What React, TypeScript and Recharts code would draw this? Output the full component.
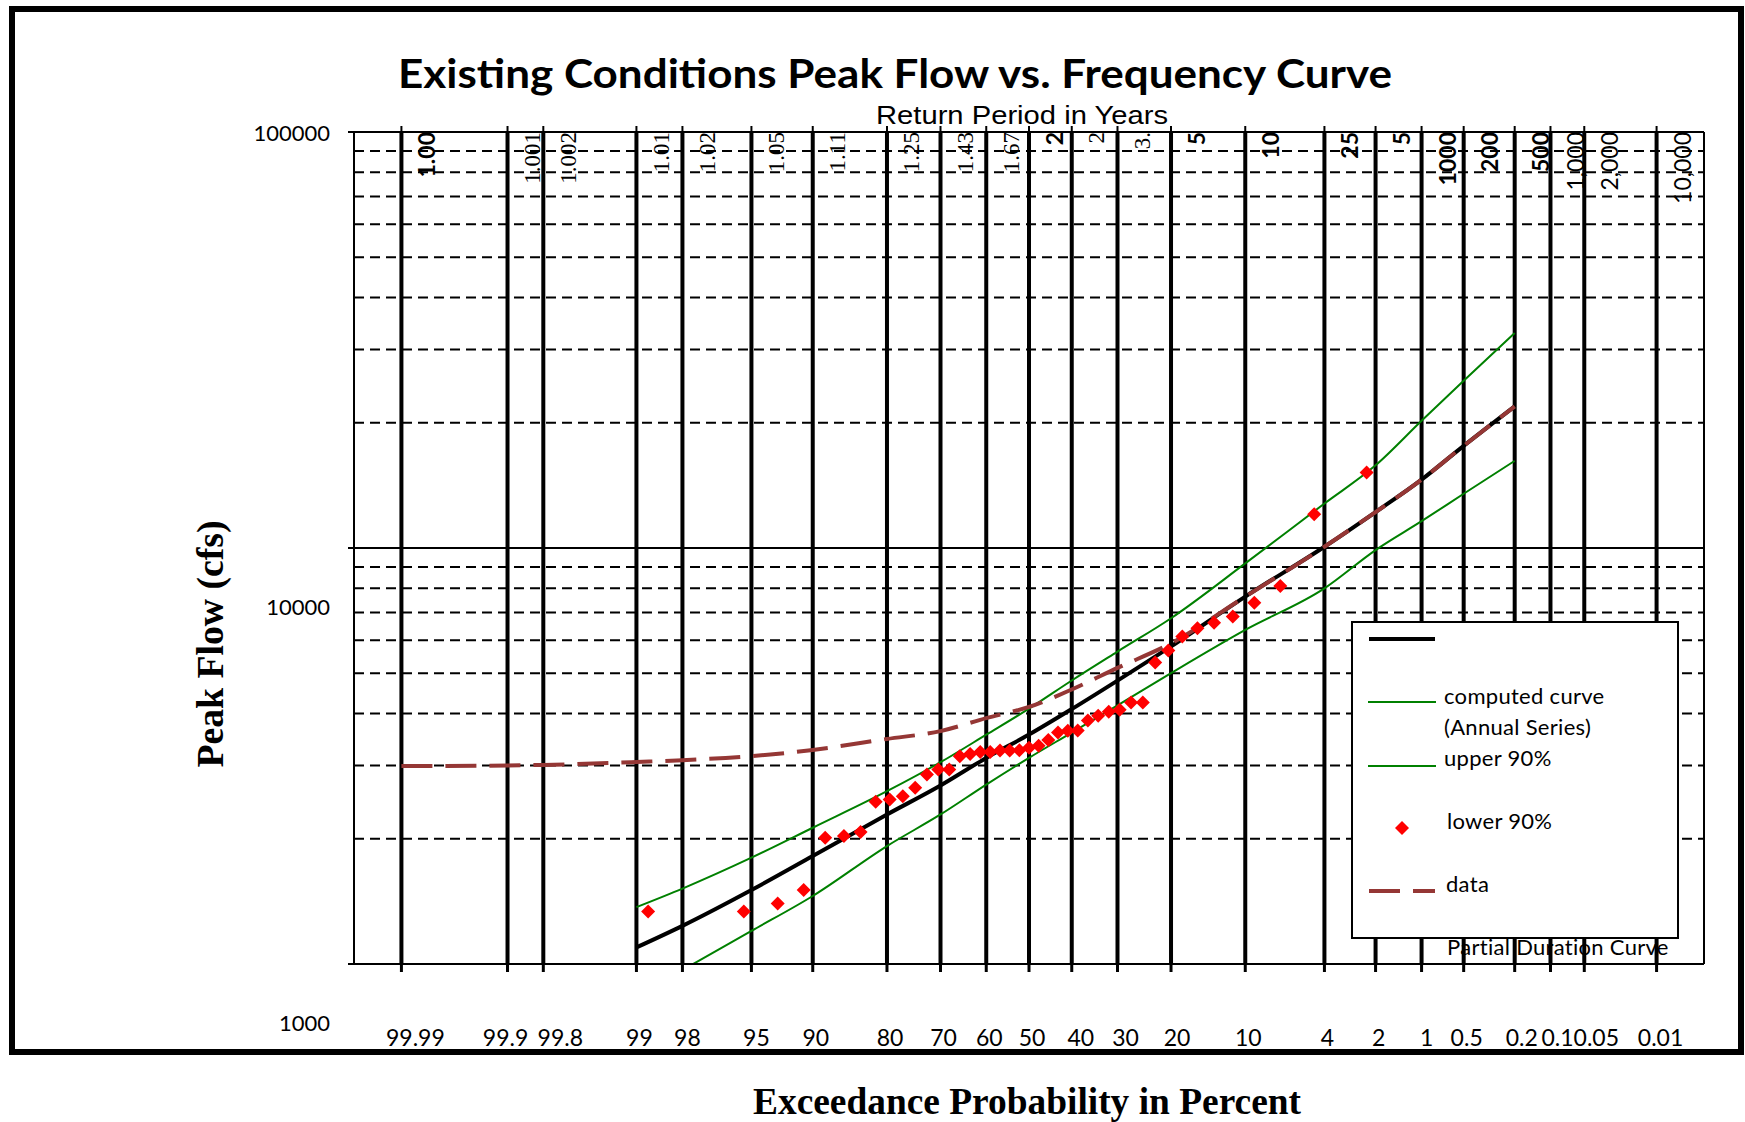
import React from "react";
import { ComposedChart, Line, Scatter, XAxis, YAxis, ReferenceLine } from "recharts";

// exceedance probabilities (%) carrying a vertical rule, bottom labels and return periods on top
const gridProbs = [99.99, 99.9, 99.8, 99, 98, 95, 90, 80, 70, 60, 50, 40, 30, 20, 10, 4, 2, 1, 0.5, 0.2, 0.1, 0.05, 0.01];
const probLabels = ["99.99", "99.9", "99.8", "99", "98", "95", "90", "80", "70", "60", "50", "40", "30", "20", "10", "4", "2", "1", "0.5", "0.2", "0.1", "0.05", "0.01"];
const returnLabels = ["1.00", "1.001", "1.002", "1.01", "1.02", "1.05", "1.11", "1.25", "1.43", "1.67", "2", "2", "3.", "5", "10", "25", "5", "1000", "200", "500", "1,000", "2,000", "10,000"];

const flowTicks = [1000, 10000, 100000];
const minorFlows = [2000, 3000, 4000, 5000, 6000, 7000, 8000, 9000, 20000, 30000, 40000, 50000, 60000, 70000, 80000, 90000];

// computed curve + 90% limits
const curveProbs = [99, 98, 95, 90, 80, 70, 60, 50, 40, 30, 20, 10, 4, 2, 1, 0.5, 0.2];
const computedFlow = [1096, 1235, 1506, 1818, 2288, 2686, 3129, 3560, 4100, 4800, 5800, 7640, 10070, 12200, 14600, 17600, 21900];
const upperFlow = [1370, 1518, 1801, 2126, 2602, 3055, 3558, 4110, 4803, 5636, 6780, 9183, 12790, 15800, 20220, 25230, 32860];
const lowerFlow = [840, 967, 1201, 1457, 1921, 2288, 2700, 3130, 3600, 4185, 5004, 6357, 8000, 9886, 11600, 13500, 16200];

// partial duration curve
const pdcProbs = [99.99, 99.9, 99.8, 99, 98, 95, 90, 80, 70, 60, 50, 40, 30, 20, 10, 4, 2, 1, 0.5, 0.2];
const pdcFlow = [2990, 3000, 3010, 3060, 3090, 3160, 3270, 3475, 3630, 3900, 4150, 4570, 5150, 5900, 7640, 10070, 12200, 14600, 17600, 21900];

// observed annual peaks
const obsExceed = [2.27, 4.55, 6.82, 9.09, 11.36, 13.64, 15.91, 18.18, 20.45, 22.73, 25.0, 27.27, 29.55, 31.82, 34.09, 36.36, 38.64, 40.91, 43.18, 45.45, 47.73, 50.0, 52.27, 54.55, 56.82, 59.09, 61.36, 63.64, 65.91, 68.18, 70.45, 72.73, 75.0, 77.27, 79.55, 81.82, 84.09, 86.36, 88.64, 90.91, 93.18, 95.45, 98.8];
const obsFlow = [15180, 12060, 8104, 7390, 6840, 6616, 6415, 6124, 5668, 5305, 4254, 4254, 4086, 4041, 3953, 3851, 3644, 3638, 3604, 3456, 3349, 3312, 3263, 3258, 3258, 3234, 3234, 3199, 3157, 2934, 2934, 2854, 2651, 2532, 2486, 2455, 2075, 2030, 2012, 1506, 1397, 1337, 1337];

// inverse normal cdf (Acklam) -> probability paper x-position
function probit(p: number) {
  const a = [-39.69683028665376, 220.9460984245205, -275.9285104469687, 138.357751867269, -30.66479806614716, 2.506628277459239];
  const b = [-54.47609879822406, 161.5858368580409, -155.6989798598866, 66.80131188771972, -13.28068155288572];
  const c = [-0.007784894002430293, -0.3223964580411365, -2.400758277161838, -2.549671010322563, 4.374664141464968, 2.938163982698783];
  const d = [0.007784695709041462, 0.3224671290700398, 2.445134137142996, 3.754408661907416];
  const tail = (q: number) =>
    (((((c[0] * q + c[1]) * q + c[2]) * q + c[3]) * q + c[4]) * q + c[5]) / ((((d[0] * q + d[1]) * q + d[2]) * q + d[3]) * q + 1);
  if (p < 0.02425) return tail(Math.sqrt(-2 * Math.log(p)));
  if (p > 1 - 0.02425) return -tail(Math.sqrt(-2 * Math.log(1 - p)));
  const q = p - 0.5;
  const r = q * q;
  return ((((((a[0] * r + a[1]) * r + a[2]) * r + a[3]) * r + a[4]) * r + a[5]) * q) /
    (((((b[0] * r + b[1]) * r + b[2]) * r + b[3]) * r + b[4]) * r + 1);
}
const zOf = (exceed: number) => probit(1 - exceed / 100);

const gridZ = gridProbs.map(zOf);
const toRows = (probs: number[], flows: number[]) => probs.map((p, i) => ({ z: zOf(p), q: flows[i] }));
const computedData = toRows(curveProbs, computedFlow);
const upperData = toRows(curveProbs, upperFlow);
const lowerData = toRows(curveProbs, lowerFlow);
const pdcData = toRows(pdcProbs, pdcFlow);
const obsData = toRows(obsExceed, obsFlow);

const W = 1745;
const H = 1122;
const PLOT_TOP = 132;
const CALIBRI = "Lato, 'Open Sans', sans-serif";
const SERIF = "'Liberation Serif', 'DejaVu Serif', serif";
const GREEN = "#008000";
const BROWN = "#953735";
const RED = "#ff0000";

const BOLD_RETURN = new Set([0, 10, 13, 14, 15, 16, 17, 18, 19]);
const SERIF_RETURN = new Set([1, 2, 3, 4, 5, 6, 7, 8, 9, 11, 12]);
// excel nudged a few bottom labels off their rules
const LABEL_NUDGE: Record<string, number> = { "99.99": 14, "99.9": -2, "99.8": 17, "98": 5, "95": 5, "40": 9, "30": 8, "20": 6, "1": 5, "0.2": 7, "0.1": 7, "0.05": 12, "0.01": 4 };

const idxOfZ = (v: number) => gridZ.findIndex((z) => Math.abs(z - v) < 1e-9);

const BottomTick = (props: any) => {
  const i = idxOfZ(props.payload.value);
  const lab = probLabels[i];
  return (
    <text x={props.x + (LABEL_NUDGE[lab] ?? 3)} y={1037} textAnchor="middle" dominantBaseline="central" fontFamily={CALIBRI} fontSize={23} fill="#000">
      {lab}
    </text>
  );
};

const TopTick = (props: any) => {
  const i = idxOfZ(props.payload.value);
  const bold = BOLD_RETURN.has(i);
  const serif = SERIF_RETURN.has(i);
  return (
    <text
      transform={`translate(${props.x + 25}, ${PLOT_TOP}) rotate(-90)`}
      textAnchor="end"
      dominantBaseline="central"
      fontFamily={serif ? SERIF : CALIBRI}
      fontWeight={bold ? 700 : 400}
      fontSize={23}
      fill="#000"
    >
      {returnLabels[i]}
    </text>
  );
};

// the 10000 and 1000 labels sit well below their rules in the original
const FlowTick = (props: any) => {
  const v = props.payload.value;
  const dy = v >= 100000 ? 0 : 58;
  return (
    <text x={330} y={props.y + dy} textAnchor="end" dominantBaseline="central" fontFamily={CALIBRI} fontSize={22} fill="#000">
      {v}
    </text>
  );
};

const Diamond = (props: any) => {
  const { cx, cy } = props;
  if (cx == null || cy == null) return null;
  const r = 7;
  return <polygon points={`${cx},${cy - r} ${cx + r},${cy} ${cx},${cy + r} ${cx - r},${cy}`} fill={RED} />;
};

function LegendBox() {
  const tx = { fontFamily: CALIBRI, fontSize: 22, letterSpacing: 0.3, fill: "#000", dominantBaseline: "central" as const };
  return (
    <g>
      <rect x={1352} y={622} width={326} height={316} fill="#fff" stroke="#000" strokeWidth={2} />
      <line x1={1369} x2={1435} y1={639} y2={639} stroke="#000" strokeWidth={4} />
      <line x1={1368} x2={1436} y1={702} y2={702} stroke={GREEN} strokeWidth={2} />
      <text x={1444} y={695} {...tx}>computed curve</text>
      <text x={1444} y={726} {...tx}>(Annual Series)</text>
      <line x1={1368} x2={1436} y1={766} y2={766} stroke={GREEN} strokeWidth={2} />
      <text x={1444} y={757} {...tx}>upper 90%</text>
      <Diamond cx={1402} cy={828} />
      <text x={1447} y={820} {...tx}>lower 90%</text>
      <line x1={1369} x2={1435} y1={891} y2={891} stroke={BROWN} strokeWidth={4} strokeDasharray="31 13" />
      <text x={1446} y={883} {...tx}>data</text>
      <text x={1447} y={946} {...tx}>Partial Duration Curve</text>
    </g>
  );
}

export default function App() {
  return (
    <div style={{ position: "absolute", left: 0, top: 0, width: W, height: H, background: "#fff" }}>
      <ComposedChart width={W} height={H} margin={{ top: PLOT_TOP - 10, right: 41, bottom: 78, left: 254 }}>
        <XAxis
          type="number"
          dataKey="z"
          domain={[-4, 4]}
          ticks={gridZ}
          interval={0}
          height={80}
          allowDataOverflow
          axisLine={{ stroke: "#000", strokeWidth: 2 }}
          tickLine={{ stroke: "#000", strokeWidth: 3 }}
          tickSize={8}
          tick={(p: any) => <BottomTick {...p} />}
        />
        <XAxis
          xAxisId="top"
          orientation="top"
          type="number"
          dataKey="z"
          domain={[-4, 4]}
          ticks={gridZ}
          interval={0}
          height={10}
          allowDataOverflow
          axisLine={{ stroke: "#000", strokeWidth: 2 }}
          tickLine={{ stroke: "#000", strokeWidth: 2 }}
          tickSize={6}
          tick={(p: any) => <TopTick {...p} />}
        />
        <YAxis
          dataKey="q"
          scale="log"
          domain={[1000, 100000]}
          ticks={flowTicks}
          interval={0}
          width={100}
          allowDataOverflow
          axisLine={{ stroke: "#000", strokeWidth: 2 }}
          tickLine={{ stroke: "#000", strokeWidth: 2 }}
          tickSize={6}
          tick={(p: any) => <FlowTick {...p} />}
        />

        {minorFlows.map((v) => (
          <ReferenceLine key={`h${v}`} y={v} stroke="#000" strokeWidth={2} strokeDasharray="10 6" />
        ))}
        <ReferenceLine y={10000} stroke="#000" strokeWidth={2} />
        {gridZ.map((z, i) => (
          <ReferenceLine key={`v${i}`} x={z} stroke="#000" strokeWidth={4} />
        ))}
        <ReferenceLine x={4} stroke="#000" strokeWidth={2} />

        <Line data={upperData} dataKey="q" type="monotone" stroke={GREEN} strokeWidth={2} dot={false} isAnimationActive={false} />
        <Line data={lowerData} dataKey="q" type="monotone" stroke={GREEN} strokeWidth={2} dot={false} isAnimationActive={false} />
        <Line data={computedData} dataKey="q" type="monotone" stroke="#000" strokeWidth={4} dot={false} isAnimationActive={false} />
        <Line data={pdcData} dataKey="q" type="monotone" stroke={BROWN} strokeWidth={4} strokeDasharray="31 13" dot={false} isAnimationActive={false} />
        <Scatter data={obsData} dataKey="q" shape={(p: any) => <Diamond {...p} />} isAnimationActive={false} />
      </ComposedChart>

      <svg width={W} height={H} style={{ position: "absolute", left: 0, top: 0, pointerEvents: "none" }}>
        <rect x={12} y={9} width={1729} height={1043} fill="none" stroke="#000" strokeWidth={6} />
        <text x={895} y={88} textAnchor="middle" fontFamily={CALIBRI} fontWeight={700} fontSize={41} textLength={994} lengthAdjust="spacingAndGlyphs">
          Existing Conditions Peak Flow vs. Frequency Curve
        </text>
        <text x={1022} y={124} textAnchor="middle" fontFamily="'Liberation Sans', Arial, sans-serif" fontSize={26} textLength={292} lengthAdjust="spacingAndGlyphs">
          Return Period in Years
        </text>
        <text
          transform="translate(210, 644) rotate(-90)"
          textAnchor="middle"
          dominantBaseline="central"
          fontFamily={SERIF}
          fontWeight={700}
          fontSize={37}
          textLength={247}
          lengthAdjust="spacingAndGlyphs"
        >
          Peak Flow (cfs)
        </text>
        <text x={1027} y={1114} textAnchor="middle" fontFamily={SERIF} fontWeight={700} fontSize={37} textLength={548} lengthAdjust="spacingAndGlyphs">
          Exceedance Probability in Percent
        </text>
        <LegendBox />
      </svg>
    </div>
  );
}
